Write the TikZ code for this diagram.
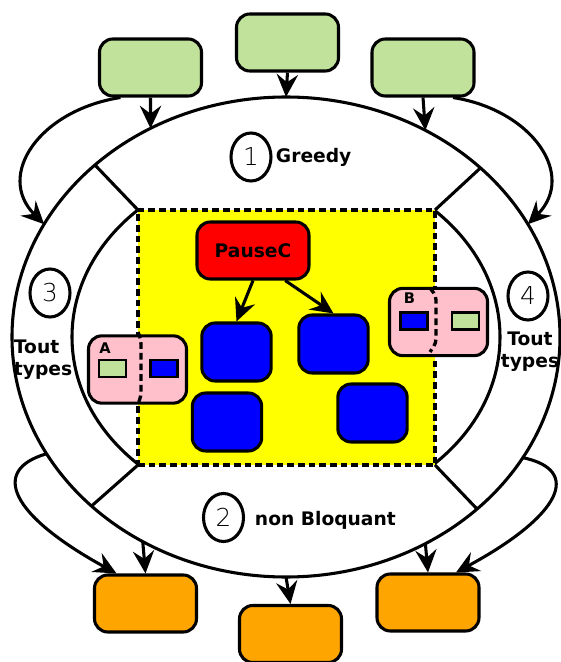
\documentclass[tikz,border=0pt]{standalone}
\usepackage{fontspec}
\setmainfont{DejaVu Sans}
\newfontfamily\thinfont{DejaVu Sans ExtraLight}
\usetikzlibrary{shapes.geometric,arrows.meta}
\definecolor{vert}{RGB}{192,226,155}
\definecolor{orangeb}{RGB}{255,165,0}
\definecolor{rose}{RGB}{255,192,203}
\definecolor{jaune}{RGB}{255,255,0}
\begin{document}
\begin{tikzpicture}[x=0.75pt, y=0.75pt, line width=2.3pt, >={Stealth[length=17pt,width=16pt,inset=6pt]},
		font=\fontsize{14}{16.5}\selectfont\bfseries,
		boite/.style={draw, rounded corners=10pt, minimum width=76.5pt, minimum height=42.75pt, inner sep=0pt},
		tache/.style={boite, fill=blue, minimum width=52pt, minimum height=43.5pt},
		porte/.style={boite, fill=rose, minimum width=73.5pt, minimum height=50.5pt},
		mini/.style={draw, line width=1.8pt, minimum width=20pt, minimum height=12.75pt, inner sep=0pt},
		num/.style={draw, ellipse, minimum width=30pt, minimum height=36pt, inner sep=0pt, font=\thinfont\fontsize{18.5}{18.5}\selectfont},
		pointille/.style={line width=2.5pt, dash pattern=on 5pt off 3pt}]
		\fill[white] (0,0) rectangle (561,662);
		\useasboundingbox (0,0) rectangle (561,662);
		% anneau
		\node[draw, ellipse, minimum width=411pt, minimum height=360pt, inner sep=0pt, outer sep=0pt] (ring) at (286,325) {};
		\begin{scope}
			\clip (0,0) rectangle (138,662) (435,0) rectangle (561,662);
			\draw (286,325) ellipse [x radius=214, y radius=176];
		\end{scope}
		\node[draw, fill=jaune, pointille, minimum width=222.75pt, minimum height=191.25pt, inner sep=0pt, outer sep=0pt] (zone) at (286.5,324.5) {};
		\foreach \c/\a in {north west/138.9, north east/41.1, south west/221.1, south east/318.9}
			\draw (zone.\c) -- (ring.\a);
		% portes A et B
		\node[porte] (pA) at (137.5,292.5) {};
		\node[porte] (pB) at (438.5,340) {};
		\draw[pointille, rounded corners=3pt] (138,330) -- (141,322) -- (141,266) -- (138,258);
		\draw[pointille, rounded corners=3pt] (430,374) -- (436,366) -- (436,319) -- (430,310);
		\node[font=\fontsize{11}{11}\selectfont\bfseries] (lA) at (105,314) {A};
		\node[font=\fontsize{11}{11}\selectfont\bfseries] (lB) at (409.5,364) {B};
		\node[mini, fill=vert] (aV) at (112.5,293.5) {};
		\node[mini, fill=blue] (aB) at (164,293.5) {};
		\node[mini, fill=blue] (bB) at (414,341) {};
		\node[mini, fill=vert] (bV) at (465.5,341) {};
		% taches
		\node[boite, fill=red, minimum width=84pt] (pause) at (253,411.5) {PauseC};
		\node[tache] (t1) at (236.5,310) {};
		\node[tache] (t2) at (333.5,318) {};
		\node[tache] (t3) at (227,240) {};
		\node[tache] (t4) at (372.5,249) {};
		\draw[->] (pause.south) -- (t1.north);
		\draw[->] (pause.-43.5) -- (t2.north);
		% numeros et textes
		\node[num] (n1) at (251,505) {1};
		\node[num] (n2) at (223.5,144.5) {2};
		\node[num] (n3) at (50,369) {3};
		\node[num] (n4) at (528,366) {4};
		\node[anchor=base west] (tG) at (270,499) {Greedy};
		\node[anchor=base west] (tN) at (249,137) {non Bloquant};
		\node[align=left, anchor=west] (tT3) at (8,302.5) {Tout\\types};
		\node[align=center] (tT4) at (530,310) {Tout\\types};
		% entrees
		\node[boite, fill=vert] (gL) at (150.5,594.5) {};
		\node[boite, fill=vert] (gM) at (287.5,619.5) {};
		\node[boite, fill=vert] (gR) at (423,594.5) {};
		\draw[->] (gL.south) -- (ring.123.1);
		\draw[->] (gM.south) -- (ring.north);
		\draw[->] (gR.south) -- (ring.56.9);
		\draw[->] (gL.225) .. controls (40,552) and (-5,487) .. (ring.155);
		\draw[->] (gR.-45) .. controls (532,552) and (577,487) .. (ring.25);
		% sorties
		\node[boite, fill=orangeb] (oL) at (145.5,58.5) {};
		\node[boite, fill=orangeb] (oM) at (290.5,28) {};
		\node[boite, fill=orangeb] (oR) at (428,59.5) {};
		\draw[->] (ring.235.6) -- (oL.north);
		\draw[->] (ring.south) -- (oM.north);
		\draw[->] (ring.304.4) -- (oR.north);
		\draw[->] (ring.206.5) .. controls (-10,192) and (10,147) .. (oL.134);
		\draw[->] (ring.333.5) .. controls (582,192) and (562,147) .. (oR.47);
	\end{tikzpicture}
\end{document}
